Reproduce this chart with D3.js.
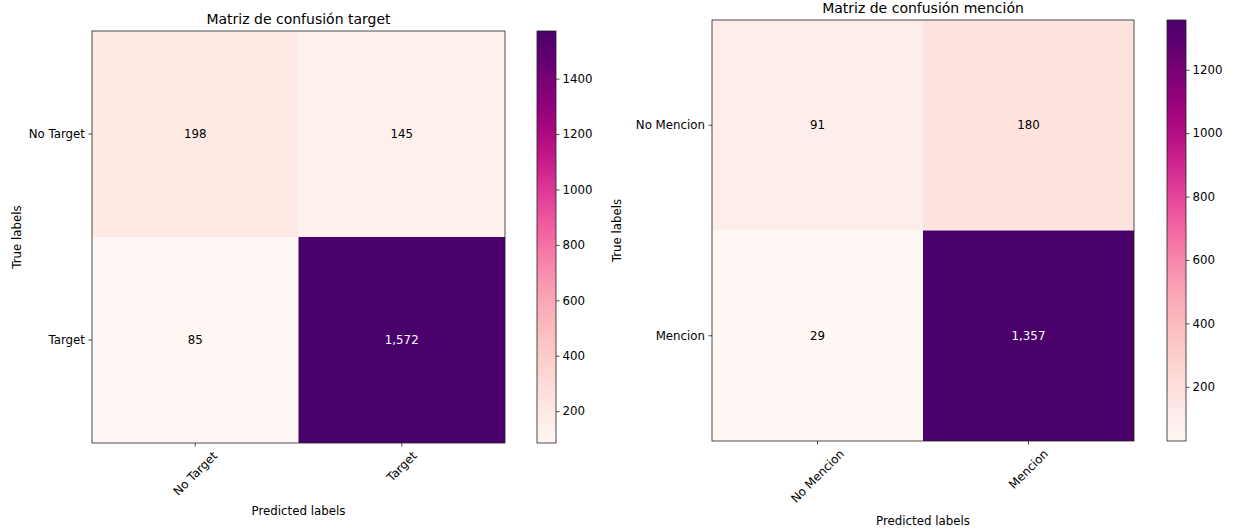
<!DOCTYPE html>
<html>
<head>
<meta charset="utf-8">
<script src="https://cdn.jsdelivr.net/npm/d3@7"></script>
<style>
  html, body { margin: 0; padding: 0; background: #fff; }
  text { font-family: "DejaVu Sans", sans-serif; fill: #000; }
</style>
</head>
<body>
<svg id="chart" width="1236" height="531"></svg>
<script>
// Confusion matrix for the "target" model
const targetLabels = ["No Target", "Target"];
const targetMatrix = [
  [198, 145],
  [85, 1572]
];
const targetTicks = [200, 400, 600, 800, 1000, 1200, 1400];

// Confusion matrix for the "mención" model
const mencionLabels = ["No Mencion", "Mencion"];
const mencionMatrix = [
  [91, 180],
  [29, 1357]
];
const mencionTicks = [200, 400, 600, 800, 1000, 1200];

const svg = d3.select("#chart");
const fmt = d3.format(",");
const FS = 11.8;     // tick / label font size
const TITLE_FS = 14;

function drawPanel(cfg) {
  const { labels, matrix, ticks, title, left, top, width, height, cbLeft, cbWidth, gradId } = cfg;
  const flat = matrix.flat();
  const vmin = d3.min(flat), vmax = d3.max(flat);
  const color = d3.scaleSequential(d3.interpolateRdPu).domain([vmin, vmax]);

  const x = d3.scaleBand().domain(labels).range([left, left + width]);
  const y = d3.scaleBand().domain(labels).range([top, top + height]);

  const g = svg.append("g");

  // cells
  const cells = [];
  matrix.forEach((row, i) => row.forEach((v, j) => cells.push({ t: labels[i], p: labels[j], v })));
  g.selectAll("rect.cell").data(cells).join("rect")
    .attr("class", "cell")
    .attr("x", d => x(d.p)).attr("y", d => y(d.t))
    .attr("width", x.bandwidth()).attr("height", y.bandwidth())
    .attr("fill", d => color(d.v));

  // annotated counts
  const thresh = (vmin + vmax) / 2;
  g.selectAll("text.val").data(cells).join("text")
    .attr("class", "val")
    .attr("x", d => x(d.p) + x.bandwidth() / 2)
    .attr("y", d => y(d.t) + y.bandwidth() / 2)
    .attr("text-anchor", "middle").attr("dominant-baseline", "central")
    .style("font-size", FS + "px")
    .style("fill", d => d.v > thresh ? "#fff" : "#000")
    .text(d => fmt(d.v));

  // frame
  g.append("rect").attr("x", left).attr("y", top).attr("width", width).attr("height", height)
    .attr("fill", "none").attr("stroke", "#222").attr("stroke-width", 0.8);

  // y axis
  labels.forEach(l => {
    const cy = y(l) + y.bandwidth() / 2;
    g.append("line").attr("x1", left - 3.5).attr("x2", left).attr("y1", cy).attr("y2", cy)
      .attr("stroke", "#222").attr("stroke-width", 0.8);
    g.append("text").attr("x", left - 7).attr("y", cy)
      .attr("text-anchor", "end").attr("dominant-baseline", "central")
      .style("font-size", FS + "px").text(l);
  });

  // x axis with rotated labels
  labels.forEach(l => {
    const cx = x(l) + x.bandwidth() / 2;
    const yb = top + height;
    g.append("line").attr("x1", cx).attr("x2", cx).attr("y1", yb).attr("y2", yb + 3.5)
      .attr("stroke", "#222").attr("stroke-width", 0.8);
    const t = g.append("text").attr("text-anchor", "middle").attr("dominant-baseline", "central")
      .style("font-size", FS + "px").text(l);
    const len = t.node().getComputedTextLength();
    const half = (len + FS) * Math.SQRT1_2 / 2;
    const cy = yb + 3.5 + 3 + half;
    t.attr("transform", `translate(${cx},${cy}) rotate(-45)`);
  });

  // title and axis titles
  g.append("text").attr("x", left + width / 2).attr("y", top - 7)
    .attr("text-anchor", "middle").style("font-size", TITLE_FS + "px").text(title);
  g.append("text").attr("x", left + width / 2).attr("y", cfg.xLabelY)
    .attr("text-anchor", "middle").style("font-size", FS + "px").text("Predicted labels");
  g.append("text").attr("transform", `translate(${cfg.yLabelX},${top + height / 2}) rotate(-90)`)
    .attr("text-anchor", "middle").attr("dominant-baseline", "central")
    .style("font-size", FS + "px").text("True labels");

  // colorbar
  const cb = d3.scaleLinear().domain([vmin, vmax]).range([top + height, top]);
  const grad = svg.append("defs").append("linearGradient").attr("id", gradId)
    .attr("x1", 0).attr("y1", 1).attr("x2", 0).attr("y2", 0);
  d3.range(0, 1.0001, 0.05).forEach(f => {
    grad.append("stop").attr("offset", f).attr("stop-color", color(vmin + f * (vmax - vmin)));
  });
  g.append("rect").attr("x", cbLeft).attr("y", top).attr("width", cbWidth).attr("height", height)
    .attr("fill", `url(#${gradId})`).attr("stroke", "#222").attr("stroke-width", 0.8);
  const axis = d3.axisRight(cb).tickValues(ticks).tickFormat(d3.format("d")).tickSize(3.5).tickPadding(3);
  const ag = g.append("g").attr("transform", `translate(${cbLeft + cbWidth},0)`).call(axis);
  ag.select(".domain").remove();
  ag.selectAll("line").attr("stroke", "#222").attr("stroke-width", 0.8);
  ag.selectAll("text").style("font-size", FS + "px").attr("font-family", "DejaVu Sans").style("fill", "#000");
}

drawPanel({
  labels: targetLabels, matrix: targetMatrix, ticks: targetTicks,
  title: "Matriz de confusión target",
  left: 92, top: 31, width: 413, height: 412,
  cbLeft: 537, cbWidth: 19, gradId: "gradTarget",
  xLabelY: 515, yLabelX: 17
});

drawPanel({
  labels: mencionLabels, matrix: mencionMatrix, ticks: mencionTicks,
  title: "Matriz de confusión mención",
  left: 712, top: 20, width: 422, height: 421,
  cbLeft: 1167, cbWidth: 19, gradId: "gradMencion",
  xLabelY: 525, yLabelX: 617
});
</script>
</body>
</html>
